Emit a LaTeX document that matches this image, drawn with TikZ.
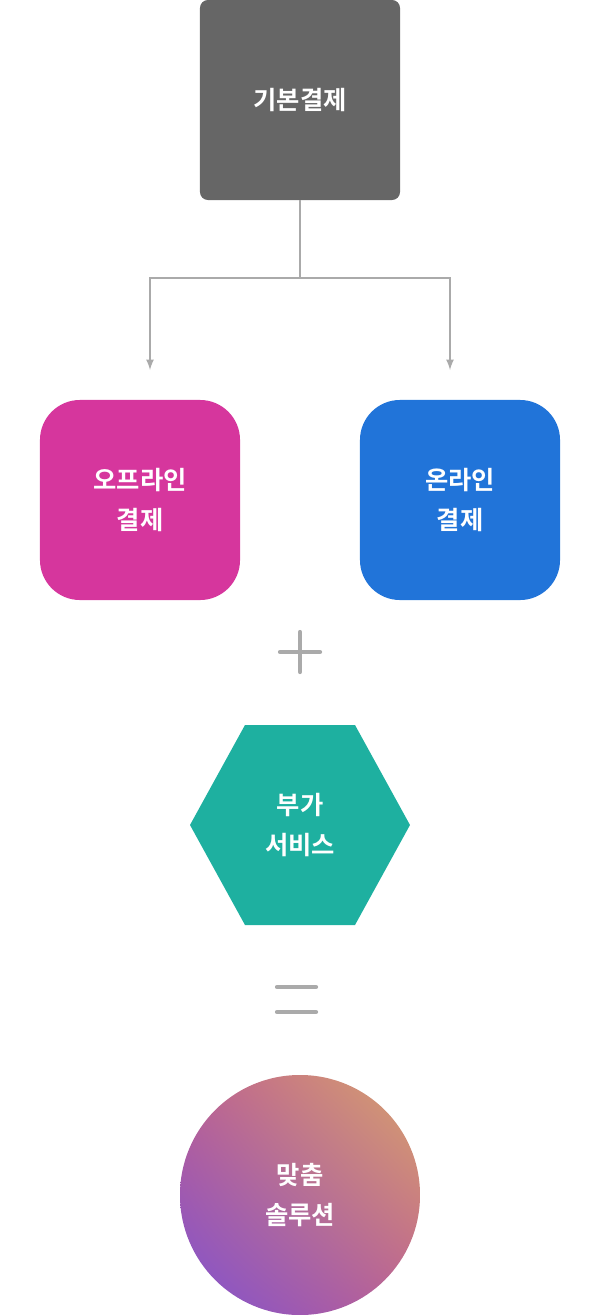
\documentclass[tikz,border=0pt]{standalone}
\usepackage{fontspec}
\setmainfont{Noto Sans CJK KR}[BoldFont={* Bold}]
\usetikzlibrary{positioning, shadings}

\definecolor{basegray}{HTML}{666666}
\definecolor{linegray}{HTML}{AAAAAA}
\definecolor{offpink}{HTML}{D6369D}
\definecolor{onblue}{HTML}{2174D9}
\definecolor{svcteal}{HTML}{1EB0A0}
\definecolor{gradorange}{HTML}{D8A46C}
\definecolor{gradpurple}{HTML}{7E52D2}
\definecolor{gradmid}{HTML}{BE6090}

\tikzset{
    boxtext/.style={text=white, font=\bfseries\fontsize{18}{29}\selectfont, align=center},
    paybox/.style={boxtext, minimum width=5cm, minimum height=5cm, inner sep=0pt},
    link/.style={draw=linegray, line width=1.5pt, -{latex}},
    opsign/.style={draw=linegray, line width=3pt, line cap=round}
}

\begin{document}
\begin{tikzpicture}[x=0.025cm, y=-0.025cm]
        \useasboundingbox (0,0) rectangle (600,1315);

        % top node
        \node[paybox, fill=basegray, rounded corners=0.2cm] (base) at (300,100) {기본결제};

        % payment types
        \node[paybox, fill=offpink, rounded corners=1cm] (offline) at (140,500) {오프라인\\결제};
        \node[paybox, fill=onblue, rounded corners=1cm] (online) at (460,500) {온라인\\결제};

        \coordinate (split) at (300,278);
        \coordinate (offend) at (150,370);
        \coordinate (onend) at (450,370);
        \draw[link] (base.south) -- (split) -| (offend);
        \draw[link] (split) -| (onend);

        % plus
        \draw[opsign] (300,632) -- (300,672);
        \draw[opsign] (280,652) -- (320,652);

        % services
        \fill[svcteal] (190,825) -- (245,725) -- (355,725) -- (410,825) -- (355,925) -- (245,925) -- cycle;
        \node[boxtext] (service) at (300,825) {부가\\서비스};

        % equals
        \draw[opsign] (277,987) -- (316,987);
        \draw[opsign] (277,1012) -- (316,1012);

        % result
        \begin{scope}
            \clip (300,1195) circle (3cm);
            \shade[upper right=gradorange, lower left=gradpurple, upper left=gradmid, lower right=gradmid]
                (180,1075) rectangle (420,1315);
        \end{scope}
        \node[boxtext] (result) at (300,1195) {맞춤\\솔루션};
    \end{tikzpicture}
\end{document}
